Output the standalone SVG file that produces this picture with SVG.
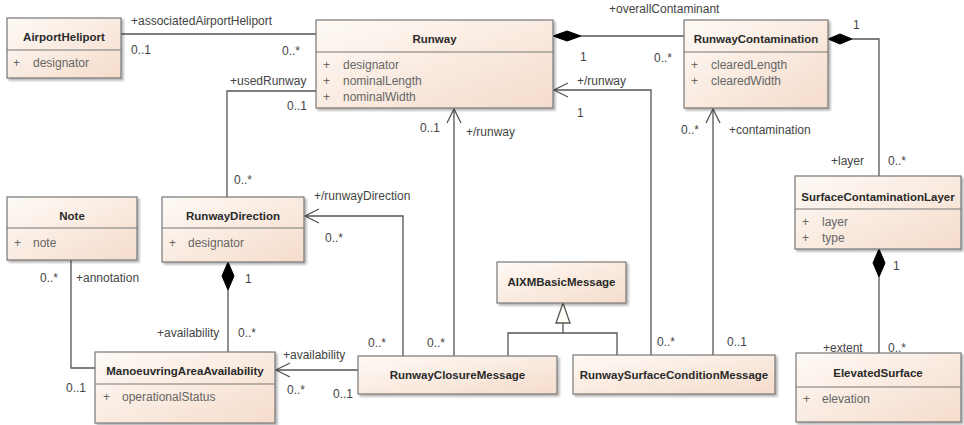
<svg xmlns="http://www.w3.org/2000/svg" width="964" height="425" viewBox="0 0 964 425">
<defs>
<linearGradient id="g" x1="0" y1="0" x2="1" y2="1">
<stop offset="0" stop-color="#fefaf6"/>
<stop offset="1" stop-color="#f5dccb"/>
</linearGradient>
<filter id="sh" x="-5%" y="-5%" width="115%" height="125%">
<feDropShadow dx="2" dy="2" stdDeviation="1.2" flood-color="#000" flood-opacity="0.3"/>
</filter>
<marker id="open" viewBox="0 0 16 16" refX="15" refY="8" markerWidth="16" markerHeight="16" markerUnits="userSpaceOnUse" orient="auto">
<path d="M1,1 L15,8 L1,15" fill="none" stroke="#555" stroke-width="1.3"/>
</marker>
</defs>
<style>
.box{fill:url(#g);stroke:#777;stroke-width:1.2;filter:url(#sh)}
.sep{stroke:#777;stroke-width:1}
.nm{font-family:"Liberation Sans",Arial,sans-serif;font-size:11.5px;font-weight:bold;fill:#2a2a2a;text-anchor:middle}
.at{font-family:"Liberation Sans",Arial,sans-serif;font-size:12px;fill:#666}
.lb{font-family:"Liberation Sans",Arial,sans-serif;font-size:12px;fill:#444}
.ln{fill:none;stroke:#555;stroke-width:1.3}
.dm{fill:#000;stroke:#000;stroke-width:1}
</style>
<rect width="964" height="425" fill="#fff"/>

<g id="connectors">
<path class="ln" d="M121,34 H316"/>
<text class="lb" x="131" y="25">+associatedAirportHeliport</text>
<text class="lb" x="131" y="54">0..1</text>
<text class="lb" x="282" y="55">0..*</text>

<polygon class="dm" points="553,36 567,31 581,36 567,41"/>
<path class="ln" d="M581,36 H684"/>
<text class="lb" x="609" y="13">+overallContaminant</text>
<text class="lb" x="580" y="61">1</text>
<text class="lb" x="654" y="62">0..*</text>

<path class="ln" d="M651,355 V90 H554" marker-end="url(#open)"/>
<text class="lb" x="577" y="85">+/runway</text>
<text class="lb" x="577" y="117">1</text>

<path class="ln" d="M454,356 V109" marker-end="url(#open)"/>
<text class="lb" x="420" y="132">0..1</text>
<text class="lb" x="466" y="136">+/runway</text>

<path class="ln" d="M713,355 V109" marker-end="url(#open)"/>
<text class="lb" x="681" y="134">0..*</text>
<text class="lb" x="729" y="134">+contamination</text>

<polygon class="dm" points="828,39 840,34 852,39 840,44"/>
<path class="ln" d="M852,39 H879 V176"/>
<text class="lb" x="853" y="29">1</text>
<text class="lb" x="831" y="165">+layer</text>
<text class="lb" x="888" y="165">0..*</text>

<polygon class="dm" points="879,249 885,263 879,277 873,263"/>
<path class="ln" d="M879,277 V353"/>
<text class="lb" x="893" y="270">1</text>
<text class="lb" x="823" y="352">+extent</text>
<text class="lb" x="888" y="352">0..*</text>

<path class="ln" d="M508,356 V333 H617 V355 M563,333 V323"/>
<polygon points="563,303 570,323 556,323" fill="#fffff6" stroke="#555" stroke-width="1.3"/>

<path class="ln" d="M316,91 H227 V197"/>
<text class="lb" x="230" y="85">+usedRunway</text>
<text class="lb" x="287" y="110">0..1</text>
<text class="lb" x="234" y="184">0..*</text>

<path class="ln" d="M403,356 V216 H305" marker-end="url(#open)"/>
<text class="lb" x="314" y="200">+/runwayDirection</text>
<text class="lb" x="325" y="242">0..*</text>

<polygon class="dm" points="228,262 234,276 228,290 222,276"/>
<path class="ln" d="M228,290 V352"/>
<text class="lb" x="245" y="283">1</text>
<text class="lb" x="157" y="337">+availability</text>
<text class="lb" x="238" y="337">0..*</text>

<path class="ln" d="M71,260 V368 H95"/>
<text class="lb" x="40" y="282">0..*</text>
<text class="lb" x="76" y="282">+annotation</text>
<text class="lb" x="66" y="392">0..1</text>

<path class="ln" d="M358,370 H276" marker-end="url(#open)"/>
<text class="lb" x="283" y="359">+availability</text>
<text class="lb" x="287" y="394">0..*</text>
<text class="lb" x="333" y="398">0..1</text>

<text class="lb" x="368" y="347">0..*</text>
<text class="lb" x="427" y="347">0..*</text>
<text class="lb" x="657" y="346">0..*</text>
<text class="lb" x="727" y="346">0..1</text>
</g>

<g id="AirportHeliport">
<rect class="box" x="7" y="18" width="114" height="60"/>
<line class="sep" x1="7" y1="50" x2="121" y2="50"/>
<text class="nm" x="64" y="41">AirportHeliport</text>
<text class="at" x="13" y="67">+</text><text class="at" x="33" y="67">designator</text>
</g>

<g id="Runway">
<rect class="box" x="316" y="20" width="237" height="88"/>
<line class="sep" x1="316" y1="52" x2="553" y2="52"/>
<text class="nm" x="434.5" y="43">Runway</text>
<text class="at" x="323" y="69">+</text><text class="at" x="343" y="69">designator</text>
<text class="at" x="323" y="85">+</text><text class="at" x="343" y="85">nominalLength</text>
<text class="at" x="323" y="101">+</text><text class="at" x="343" y="101">nominalWidth</text>
</g>

<g id="RunwayContamination">
<rect class="box" x="684" y="20" width="144" height="88"/>
<line class="sep" x1="684" y1="52" x2="828" y2="52"/>
<text class="nm" x="756" y="43">RunwayContamination</text>
<text class="at" x="691" y="69">+</text><text class="at" x="711" y="69">clearedLength</text>
<text class="at" x="691" y="85">+</text><text class="at" x="711" y="85">clearedWidth</text>
</g>

<g id="SurfaceContaminationLayer">
<rect class="box" x="795" y="176" width="166" height="73"/>
<line class="sep" x1="795" y1="209" x2="961" y2="209"/>
<text class="nm" x="878" y="201">SurfaceContaminationLayer</text>
<text class="at" x="802" y="226">+</text><text class="at" x="822" y="226">layer</text>
<text class="at" x="802" y="242">+</text><text class="at" x="822" y="242">type</text>
</g>

<g id="ElevatedSurface">
<rect class="box" x="796" y="353" width="165" height="69"/>
<line class="sep" x1="796" y1="387" x2="961" y2="387"/>
<text class="nm" x="878" y="377">ElevatedSurface</text>
<text class="at" x="803" y="403">+</text><text class="at" x="822" y="403">elevation</text>
</g>

<g id="AIXMBasicMessage">
<rect class="box" x="497" y="262" width="129" height="41"/>
<text class="nm" x="561.5" y="286">AIXMBasicMessage</text>
</g>

<g id="RunwayClosureMessage">
<rect class="box" x="358" y="356" width="199" height="38"/>
<text class="nm" x="457.5" y="379">RunwayClosureMessage</text>
</g>

<g id="RunwaySurfaceConditionMessage">
<rect class="box" x="573" y="355" width="202" height="39"/>
<text class="nm" x="674" y="379">RunwaySurfaceConditionMessage</text>
</g>

<g id="RunwayDirection">
<rect class="box" x="162" y="197" width="142" height="65"/>
<line class="sep" x1="162" y1="228" x2="304" y2="228"/>
<text class="nm" x="233" y="220">RunwayDirection</text>
<text class="at" x="169" y="247">+</text><text class="at" x="188" y="247">designator</text>
</g>

<g id="Note">
<rect class="box" x="7" y="197" width="130" height="63"/>
<line class="sep" x1="7" y1="228" x2="137" y2="228"/>
<text class="nm" x="72" y="220">Note</text>
<text class="at" x="14" y="247">+</text><text class="at" x="33" y="247">note</text>
</g>

<g id="ManoeuvringAreaAvailability">
<rect class="box" x="95" y="352" width="180" height="71"/>
<line class="sep" x1="95" y1="384" x2="275" y2="384"/>
<text class="nm" x="185" y="375">ManoeuvringAreaAvailability</text>
<text class="at" x="103" y="401">+</text><text class="at" x="122" y="401">operationalStatus</text>
</g>
</svg>
